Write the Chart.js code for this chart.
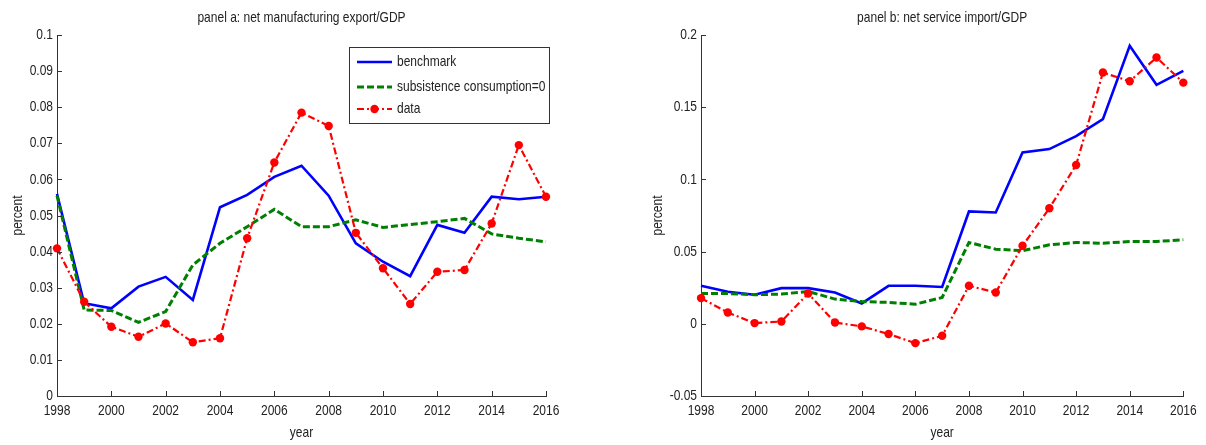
<!DOCTYPE html>
<html>
<head>
<meta charset="utf-8">
<script src="https://cdn.jsdelivr.net/npm/chart.js@4/dist/chart.umd.min.js"></script>
<style>
  html, body { margin: 0; padding: 0; background: #fff; }
  #wrap { position: relative; width: 1206px; height: 445px; overflow: hidden; }
  .pane { position: absolute; top: 0; width: 603px; height: 445px; }
</style>
</head>
<body>
<div id="wrap">
  <div class="pane" style="left:0"><canvas id="panelA" width="603" height="445"></canvas></div>
  <div class="pane" style="left:603px"><canvas id="panelB" width="603" height="445"></canvas></div>
</div>
<script>
// ---- data ----
const years = [1998, 1999, 2000, 2001, 2002, 2003, 2004, 2005, 2006, 2007,
               2008, 2009, 2010, 2011, 2012, 2013, 2014, 2015, 2016];
const seriesNames = ['benchmark', 'subsistence consumption=0', 'data'];

// panel a: net manufacturing export / GDP
const mfgBenchmark   = [0.0560, 0.0257, 0.0243, 0.0303, 0.0330, 0.0266, 0.0523, 0.0557, 0.0607, 0.0638,
                        0.0555, 0.0423, 0.0372, 0.0332, 0.0474, 0.0452, 0.0552, 0.0545, 0.0552];
const mfgSubsistence = [0.0555, 0.0238, 0.0237, 0.0204, 0.0234, 0.0363, 0.0423, 0.0469, 0.0517, 0.0469,
                        0.0469, 0.0488, 0.0467, 0.0475, 0.0483, 0.0492, 0.0449, 0.0437, 0.0427];
const mfgData        = [0.0409, 0.0261, 0.0192, 0.0164, 0.0201, 0.0149, 0.0160, 0.0437, 0.0647, 0.0785,
                        0.0748, 0.0452, 0.0354, 0.0255, 0.0344, 0.0349, 0.0478, 0.0695, 0.0552];

// panel b: net service import / GDP
const svcBenchmark   = [0.0263, 0.0222, 0.0201, 0.0247, 0.0247, 0.0217, 0.0141, 0.0263, 0.0263, 0.0255,
                        0.0778, 0.0771, 0.1186, 0.1210, 0.1300, 0.1417, 0.1925, 0.1655, 0.1752];
const svcSubsistence = [0.0210, 0.0210, 0.0201, 0.0206, 0.0224, 0.0171, 0.0154, 0.0148, 0.0136, 0.0182,
                        0.0563, 0.0517, 0.0506, 0.0547, 0.0563, 0.0558, 0.0570, 0.0570, 0.0582];
const svcData        = [0.0178, 0.0078, 0.0005, 0.0016, 0.0210, 0.0009, -0.0018, -0.0071, -0.0134, -0.0083,
                        0.0263, 0.0217, 0.0540, 0.0800, 0.1100, 0.1740, 0.1680, 0.1844, 0.1670];

// axis ticks
const xTicks = [1998, 2000, 2002, 2004, 2006, 2008, 2010, 2012, 2014, 2016];
const yTicksA = [0, 0.01, 0.02, 0.03, 0.04, 0.05, 0.06, 0.07, 0.08, 0.09, 0.1];
const yLabelsA = ['0', '0.01', '0.02', '0.03', '0.04', '0.05', '0.06', '0.07', '0.08', '0.09', '0.1'];
const yTicksB = [-0.05, 0, 0.05, 0.1, 0.15, 0.2];
const yLabelsB = ['-0.05', '0', '0.05', '0.1', '0.15', '0.2'];

// ---- styling ----
const FONT = "'Liberation Sans', Arial, sans-serif";
const FS = 15;                 // font size for all text
const NARROW = 0.8;            // horizontal squeeze for a narrow Helvetica look
const TEXT = '#222222';
const AXIS = '#333333';

Chart.defaults.font.family = FONT;
Chart.defaults.color = TEXT;

const styles = [
  { borderColor: '#0000ff', borderWidth: 2.6, borderDash: [], pointRadius: 0, order: 3 },
  { borderColor: '#008000', borderWidth: 3, borderDash: [7, 3], pointRadius: 0, order: 2 },
  { borderColor: '#ff0000', borderWidth: 2.2, borderDash: [7, 3, 2, 3], pointRadius: 4.2, order: 1 }
];

function pairs(vals) { return years.map((y, i) => ({ x: y, y: vals[i] })); }

// condensed text: squeeze every fillText horizontally around its anchor
const narrowText = {
  id: 'narrowText',
  beforeInit(chart) {
    const ctx = chart.ctx;
    if (ctx.__narrow) return;
    const orig = ctx.fillText;
    ctx.fillText = function (text, x, y, maxWidth) {
      this.save();
      this.translate(x, y);
      this.scale(NARROW, 1);
      if (maxWidth === undefined) orig.call(this, text, 0, 0);
      else orig.call(this, text, 0, 0, maxWidth / NARROW);
      this.restore();
    };
    ctx.__narrow = true;
  }
};

// MATLAB-style tick marks pointing into the plot area
const inwardTicks = {
  id: 'inwardTicks',
  afterDraw(chart) {
    const { ctx, scales: { x, y }, chartArea: a } = chart;
    ctx.save();
    ctx.strokeStyle = AXIS;
    ctx.lineWidth = 1;
    ctx.beginPath();
    x.ticks.forEach(t => {
      const px = Math.round(x.getPixelForValue(t.value)) + 0.5;
      ctx.moveTo(px, a.bottom); ctx.lineTo(px, a.bottom - 5);
    });
    y.ticks.forEach(t => {
      const py = Math.round(y.getPixelForValue(t.value)) + 0.5;
      ctx.moveTo(a.left, py); ctx.lineTo(a.left + 5, py);
    });
    ctx.stroke();
    ctx.restore();
  }
};

// boxed legend with line samples inside the plot
const boxLegend = {
  id: 'boxLegend',
  afterDraw(chart, args, opts) {
    if (!opts || !opts.show) return;
    const { ctx, chartArea: a } = chart;
    const bx = a.right - 197, by = a.top + 12, bw = 200, bh = 76;
    ctx.save();
    ctx.fillStyle = '#fff';
    ctx.fillRect(bx, by, bw, bh);
    ctx.strokeStyle = AXIS;
    ctx.lineWidth = 1;
    ctx.strokeRect(Math.round(bx) + 0.5, Math.round(by) + 0.5, bw, bh);
    const rows = [15, 40, 62];
    chart.data.datasets.forEach((ds, i) => {
      const yy = by + rows[i];
      const x0 = bx + 8, x1 = bx + 43;
      ctx.strokeStyle = ds.borderColor;
      ctx.lineWidth = ds.borderWidth;
      ctx.setLineDash(ds.borderDash || []);
      ctx.beginPath(); ctx.moveTo(x0, yy); ctx.lineTo(x1, yy); ctx.stroke();
      ctx.setLineDash([]);
      if (ds.pointRadius > 0) {
        ctx.fillStyle = ds.borderColor;
        ctx.beginPath(); ctx.arc((x0 + x1) / 2, yy, ds.pointRadius, 0, Math.PI * 2); ctx.fill();
      }
      ctx.fillStyle = TEXT;
      ctx.font = FS + 'px ' + FONT;
      ctx.textBaseline = 'middle';
      ctx.textAlign = 'left';
      ctx.fillText(ds.label, x1 + 5, yy);
    });
    ctx.restore();
  }
};

function makePanel(id, title, vals, yMin, yMax, yTicks, yLabels, padL, yWidth, padR, legend) {
  return new Chart(document.getElementById(id), {
    type: 'line',
    data: {
      datasets: vals.map((v, i) => Object.assign({
        label: seriesNames[i],
        data: pairs(v),
        backgroundColor: styles[i].borderColor,
        pointBackgroundColor: styles[i].borderColor,
        pointBorderWidth: 0,
        pointHoverRadius: 0,
        tension: 0,
        fill: false,
        clip: false
      }, styles[i]))
    },
    options: {
      responsive: false,
      animation: false,
      devicePixelRatio: 1,
      events: [],
      layout: { padding: { left: padL, right: padR, top: 0, bottom: 0 } },
      plugins: {
        legend: { display: false },
        tooltip: { enabled: false },
        title: {
          display: true, text: title, fullSize: false, color: TEXT,
          font: { size: FS, weight: 'normal', lineHeight: 1.2 },
          padding: { top: 9, bottom: 8 }
        },
        boxLegend: { show: legend }
      },
      scales: {
        x: {
          type: 'linear', min: 1998, max: 2016,
          grid: { display: false, drawTicks: false },
          border: { display: true, color: AXIS, width: 1 },
          afterBuildTicks: s => { s.ticks = xTicks.map(v => ({ value: v })); },
          afterFit: s => { s.height = 49; },
          ticks: { padding: 6, maxRotation: 0, color: TEXT, font: { size: FS }, callback: v => String(v) },
          title: { display: true, text: 'year', color: TEXT, font: { size: FS }, padding: { top: 0, bottom: 3 } }
        },
        y: {
          type: 'linear', min: yMin, max: yMax,
          grid: { display: false, drawTicks: false },
          border: { display: true, color: AXIS, width: 1 },
          afterBuildTicks: s => { s.ticks = yTicks.map(v => ({ value: v })); },
          afterFit: s => { s.width = yWidth; },
          ticks: { padding: 4, color: TEXT, font: { size: FS }, callback: (v, i) => yLabels[i] },
          title: { display: true, text: 'percent', color: TEXT, font: { size: FS }, padding: { top: 9, bottom: 0 } }
        }
      }
    },
    plugins: [narrowText, inwardTicks, boxLegend]
  });
}

makePanel('panelA', 'panel a: net manufacturing export/GDP',
  [mfgBenchmark, mfgSubsistence, mfgData], 0, 0.1, yTicksA, yLabelsA, 0, 57, 57, true);
makePanel('panelB', 'panel b: net service import/GDP',
  [svcBenchmark, svcSubsistence, svcData], -0.05, 0.2, yTicksB, yLabelsB, 37, 61, 17, false);
</script>
</body>
</html>
